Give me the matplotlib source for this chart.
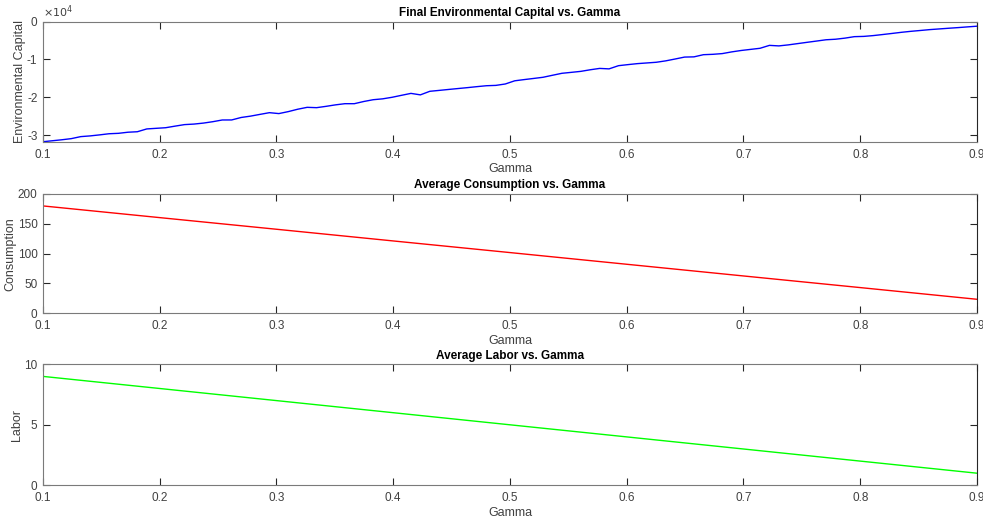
import numpy as np
import matplotlib
matplotlib.use("Agg")
import matplotlib.pyplot as plt

plt.rcParams['font.family'] = ['Liberation Sans', 'DejaVu Sans']

# gamma grid (100 points between 0.1 and 0.9) for environmental capital
gamma = np.linspace(0.1, 0.9, 100)
env_capital_e4 = [
    -3.172, -3.147, -3.121, -3.091, -3.038, -3.019, -2.992, -2.962, -2.951, -2.922,
    -2.909, -2.835, -2.819, -2.803, -2.761, -2.721, -2.707, -2.681, -2.644, -2.599,
    -2.598, -2.533, -2.497, -2.451, -2.406, -2.430, -2.378, -2.315, -2.265, -2.274,
    -2.239, -2.200, -2.169, -2.169, -2.111, -2.064, -2.041, -2.000, -1.948, -1.897,
    -1.936, -1.842, -1.818, -1.793, -1.769, -1.745, -1.719, -1.695, -1.686, -1.649,
    -1.565, -1.533, -1.503, -1.472, -1.419, -1.367, -1.342, -1.316, -1.274, -1.238,
    -1.250, -1.166, -1.138, -1.112, -1.094, -1.076, -1.039, -0.990, -0.939, -0.933,
    -0.876, -0.866, -0.847, -0.802, -0.765, -0.736, -0.707, -0.630, -0.644, -0.617,
    -0.583, -0.549, -0.516, -0.482, -0.468, -0.439, -0.400, -0.393, -0.372, -0.344,
    -0.315, -0.285, -0.259, -0.237, -0.214, -0.196, -0.178, -0.161, -0.142, -0.124,
]
env_capital = np.array(env_capital_e4) * 1e4

gamma_coarse = [0.1, 0.2, 0.3, 0.4, 0.5, 0.6, 0.7, 0.8, 0.9]
consumption = [180.0, 160.4, 140.9, 121.3, 101.8, 82.2, 62.6, 43.1, 23.5]
labor = [9.0, 8.0, 7.0, 6.0, 5.0, 4.0, 3.0, 2.0, 1.0]

xticks = [0.1, 0.2, 0.3, 0.4, 0.5, 0.6, 0.7, 0.8, 0.9]
xticklabels = ['0.1', '0.2', '0.3', '0.4', '0.5', '0.6', '0.7', '0.8', '0.9']

W, H = 983, 520
fig = plt.figure(figsize=(W / 100, H / 100), dpi=100)

left = 43 / W
width = (977 - 43) / W

def make_ax(top_px, bot_px):
    ax = fig.add_axes([left, 1 - bot_px / H, width, (bot_px - top_px) / H])
    for s in ax.spines.values():
        s.set_color('#7a7a7a')
        s.set_linewidth(0.8)
    ax.spines['right'].set_color('#262626')
    ax.tick_params(direction='in', length=5, width=0.8, color='#262626',
                   labelcolor='#404040', labelsize=8.5, top=True, right=True)
    ax.tick_params(axis='x', pad=5)
    ax.tick_params(axis='y', pad=4)
    ax.set_xlim(0.1, 0.9)
    ax.set_xticks(xticks)
    ax.set_xticklabels(xticklabels)
    ax.set_xlabel('Gamma', fontsize=9, color='#404040', labelpad=2)
    return ax

title_kw = dict(fontsize=8.5, fontweight='bold', color='black', pad=4)
label_kw = dict(fontsize=9, color='#404040')

ax1 = make_ax(21.5, 141.7)
ax1.plot(gamma, env_capital, color='#0000ff', lw=1.0)
ax1.set_ylim(min(env_capital), 0)
ax1.set_yticks([-3e4, -2e4, -1e4, 0])
ax1.set_yticklabels(['-3', '-2', '-1', '0'])
ax1.set_title('Final Environmental Capital vs. Gamma', **title_kw)
ax1.set_ylabel('Environmental Capital', **label_kw)
ax1.yaxis.set_label_coords(-0.018, 0.5)
ax1.text(0.0, 1.01, r'$\times10^4$', transform=ax1.transAxes, fontsize=8,
         color='#404040', ha='left', va='bottom')

ax2 = make_ax(194, 313.3)
ax2.plot(gamma_coarse, consumption, color='#ff0000', lw=1.0)
ax2.set_ylim(0, 200)
ax2.set_yticks([0, 50, 100, 150, 200])
ax2.set_title('Average Consumption vs. Gamma', **title_kw)
ax2.set_ylabel('Consumption', **label_kw)
ax2.yaxis.set_label_coords(-0.028, 0.5)

ax3 = make_ax(364.3, 485.3)
ax3.plot(gamma_coarse, labor, color='#00ff00', lw=1.0)
ax3.set_ylim(0, 10)
ax3.set_yticks([0, 5, 10])
ax3.set_title('Average Labor vs. Gamma', **title_kw)
ax3.set_ylabel('Labor', **label_kw)
ax3.yaxis.set_label_coords(-0.021, 0.5)

fig.savefig('out.png', dpi=100)
